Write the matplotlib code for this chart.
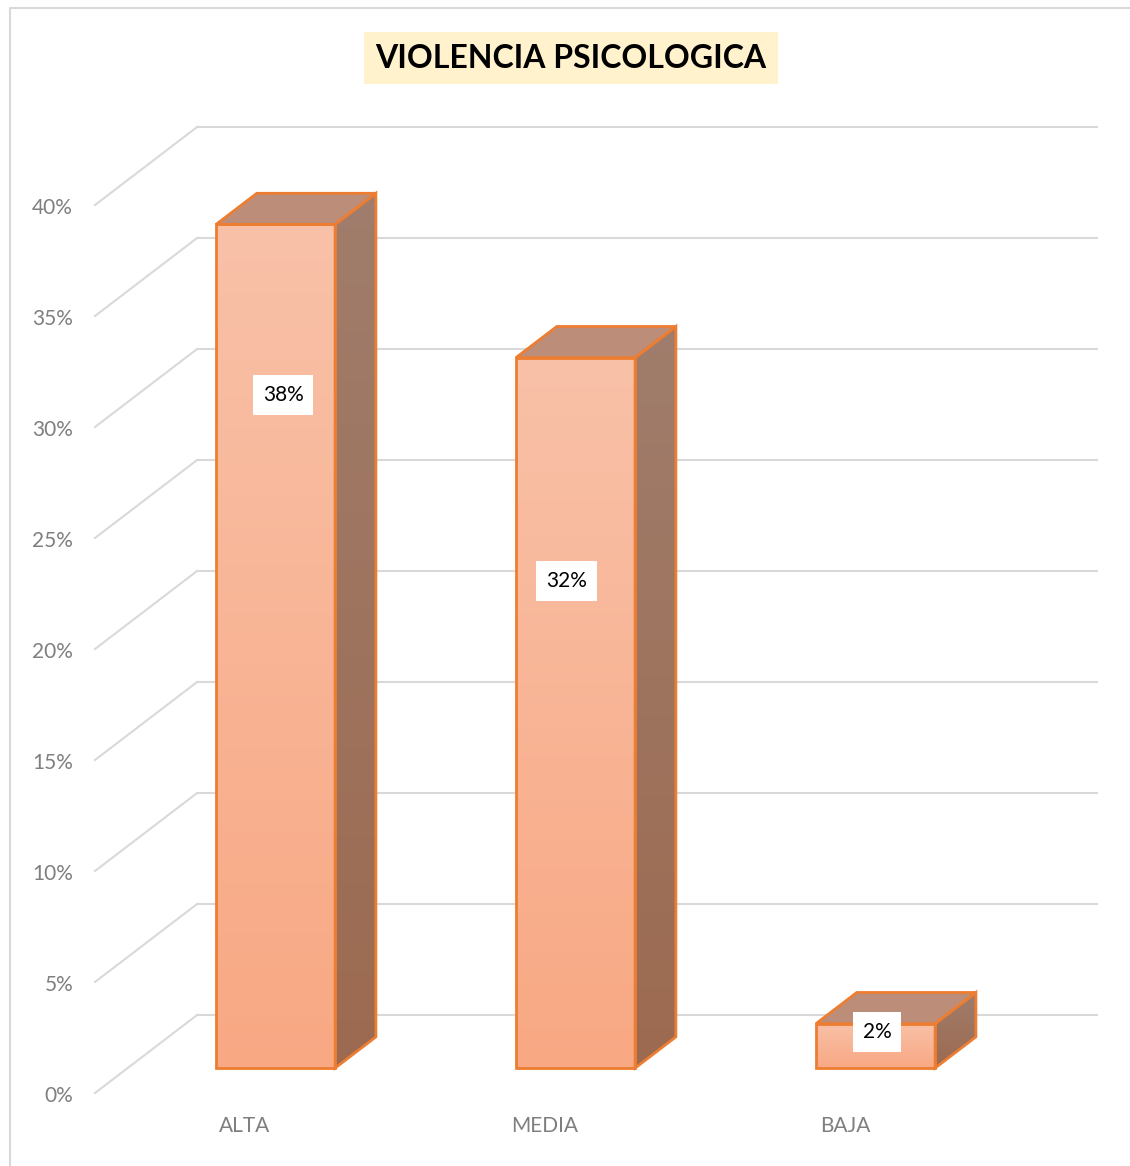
import numpy as np
import matplotlib
matplotlib.use('Agg')
import matplotlib.pyplot as plt
from matplotlib.patches import Polygon
from matplotlib.colors import LinearSegmentedColormap

categories = ['ALTA', 'MEDIA', 'BAJA']
values = [38, 32, 2]
value_labels = ['38%', '32%', '2%']
ticks = [0, 5, 10, 15, 20, 25, 30, 35, 40]
tick_labels = ['0%', '5%', '10%', '15%', '20%', '25%', '30%', '35%', '40%']
title = 'VIOLENCIA PSICOLOGICA'

plt.rcParams['font.family'] = ['Lato', 'DejaVu Sans']

W, H = 1130, 1166
fig = plt.figure(figsize=(W / 100, H / 100), dpi=100)
ax = fig.add_axes([0, 0, 1, 1])
ax.axis('off')

# oblique 3d look: floor depth offset and bar placement (data units)
floor_dx, floor_dy = 0.34, 3.51
bar_f0 = 0.32          # depth fraction of bar front face
bar_depth = 0.40       # depth fraction of bar
bar_w = 0.397
label_y = [31.45, 23.05, 2.75]
label_dx = [0.025, -0.03, 0.005]

grid_c = '#D9D9D9'
edge_c = '#ED7D31'
front_cmap = LinearSegmentedColormap.from_list('front', ['#F8A883', '#F9C1A8'])
side_cmap = LinearSegmentedColormap.from_list('side', ['#9C6A50', '#A07D6C'])
top_c = '#BC8E79'

# gridlines: diagonal on the side wall + horizontal on the back wall
for t, lab in zip(ticks, tick_labels):
    ax.plot([-0.5, -0.5 + floor_dx], [t, t + floor_dy], color=grid_c, lw=1.5, zorder=1)
    ax.plot([-0.5 + floor_dx, 2.5 + floor_dx], [t + floor_dy, t + floor_dy],
            color=grid_c, lw=1.5, zorder=1)
    ax.text(-0.573, t - 0.12, lab, ha='right', va='center', fontsize=15, color='#7F7F7F')

for i, cat in enumerate(categories):
    ax.text(i, -1.48, cat, ha='center', va='center', fontsize=15, color='#7F7F7F')

ox, oy = bar_f0 * floor_dx - 0.007, bar_f0 * floor_dy
dx, dy = bar_depth * floor_dx, bar_depth * floor_dy
grad = np.linspace(0, 1, 256).reshape(-1, 1)

for i, v in enumerate(values):
    xl = i + ox - bar_w / 2
    xr = i + ox + bar_w / 2
    y0 = oy
    y1 = oy + v

    front = Polygon([(xl, y0), (xr, y0), (xr, y1), (xl, y1)], closed=True,
                    facecolor='none', edgecolor=edge_c, lw=2, zorder=5, joinstyle='miter')
    side = Polygon([(xr, y0), (xr + dx, y0 + dy), (xr + dx, y1 + dy), (xr, y1)],
                   closed=True, facecolor='none', edgecolor=edge_c, lw=2, zorder=5)
    top = Polygon([(xl, y1), (xr, y1), (xr + dx, y1 + dy), (xl + dx, y1 + dy)],
                  closed=True, facecolor=top_c, edgecolor=edge_c, lw=2, zorder=4)
    ax.add_patch(top)

    im = ax.imshow(grad, extent=[xl, xr, y0, y1], origin='lower', cmap=front_cmap,
                   aspect='auto', zorder=3)
    im.set_clip_path(Polygon(front.get_xy(), transform=ax.transData))
    im2 = ax.imshow(grad, extent=[xr, xr + dx, y0, y1 + dy], origin='lower',
                    cmap=side_cmap, aspect='auto', zorder=3)
    clip = Polygon(side.get_xy(), closed=True, transform=ax.transData)
    im2.set_clip_path(clip)
    ax.add_patch(front)
    ax.add_patch(side)

    ax.text(i + ox + label_dx[i], label_y[i], value_labels[i], ha='center', va='center',
            fontsize=15, color='black', zorder=6,
            bbox=dict(facecolor='white', edgecolor='none', pad=7))

ax.set_xlim(-245 / 300, (W - 245) / 300)
ax.set_ylim(-(H - 1093) / 22.2, 1093 / 22.2)

fig.text(571 / W, 1 - 58 / H, title, ha='center', va='center', fontsize=23,
         fontweight='bold', color='black',
         bbox=dict(facecolor='#FFF2CC', edgecolor='none', pad=8))

# chart area border
fig.add_artist(plt.Line2D([10 / W, 10 / W, 1], [0, 1 - 8 / H, 1 - 8 / H],
                          color=grid_c, lw=1.5, transform=fig.transFigure))

fig.savefig('out.png', dpi=100)
